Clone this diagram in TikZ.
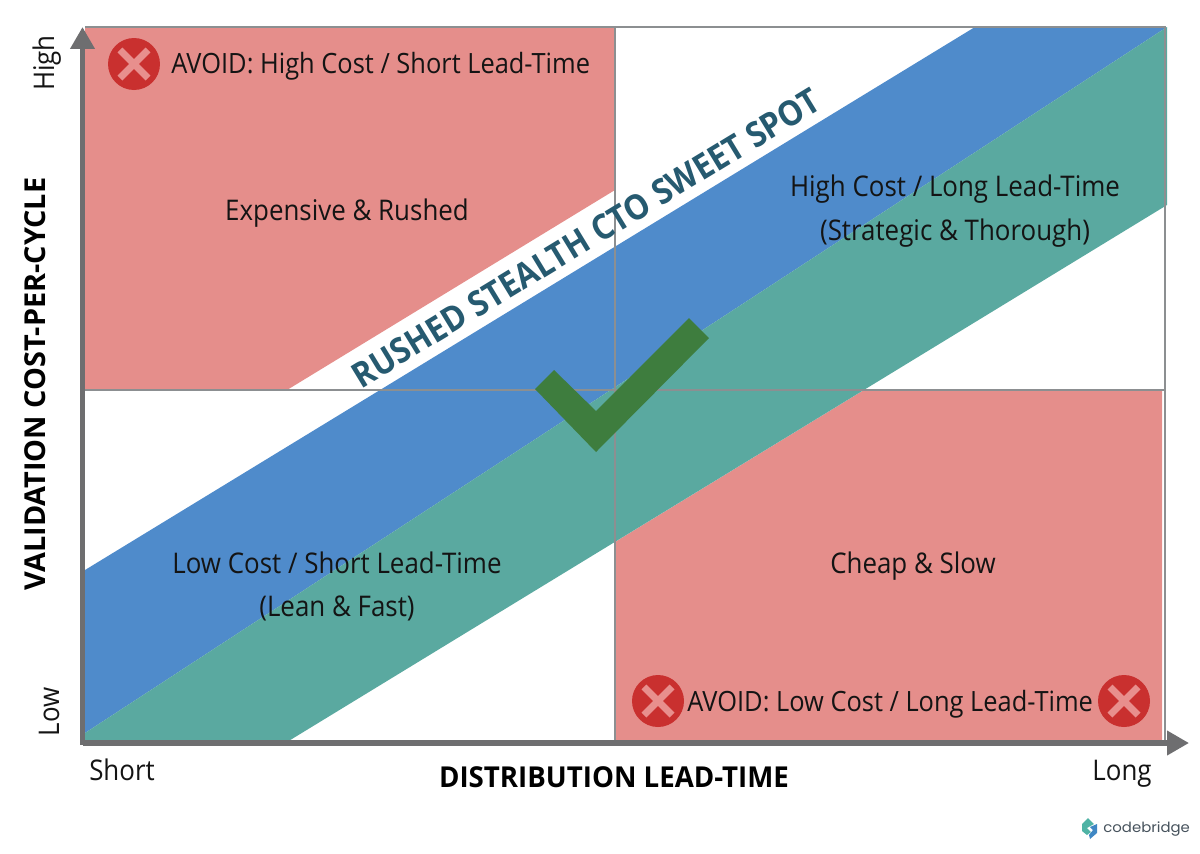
\documentclass[tikz,border=0pt]{standalone}
\usepackage{fontspec}
\setmainfont[FakeStretch=0.91]{Open Sans}
\newfontfamily\titlefont[FakeStretch=0.96]{Open Sans}
\newfontfamily\sidefont{Open Sans}
\newfontfamily\logofont[FakeStretch=1.06]{Poppins}
\usetikzlibrary{arrows.meta,shapes.misc}
\definecolor{zonered}{HTML}{E58E8B}
\definecolor{bandblue}{HTML}{4F8BCB}
\definecolor{bandgreen}{HTML}{5AA9A0}
\definecolor{axisgray}{HTML}{6E6E70}
\definecolor{gridgray}{HTML}{8C8F91}
\definecolor{avoidred}{HTML}{C9302F}
\definecolor{crosspink}{HTML}{E88F8D}
\definecolor{checkgreen}{HTML}{3E7D3E}
\definecolor{spotteal}{HTML}{265A70}
\definecolor{logogray}{HTML}{46525C}
\definecolor{logoteal}{HTML}{4FB3A5}
\definecolor{logoblue}{HTML}{3F87C4}
\begin{document}
\begin{tikzpicture}[x=0.02cm, y=-0.02cm,
    label/.style={font=\fontsize{16.2}{18}\selectfont, text=black!92, inner sep=0pt, anchor=base},
    warning/.style={font=\fontsize{15.9}{18}\selectfont, text=black!92, inner sep=0pt, anchor=base west},
    axistitle/.style={text=black, inner sep=0pt, anchor=base},
    axis/.style={line width=3pt, draw=axisgray, -{Triangle[length=12.5pt, width=13.4pt]}},
    grid/.style={line width=0.6pt, draw=gridgray},
    avoid/.style={circle, fill=avoidred, minimum size=1.04cm, inner sep=0pt},
    xmark/.style={cross out, draw=crosspink, line width=4pt, minimum size=0.42cm, inner sep=0pt}]
      \useasboundingbox (0,0) rectangle (1200,853);

      % Red zones
      \fill[zonered] (85,27) -- (615,27) -- (615,190) -- (287,390) -- (85,390) -- cycle;
      \fill[zonered] (615,542) -- (864,390) -- (1162,390) -- (1162,742) -- (615,742) -- cycle;

      % Sweet spot band
      \fill[bandblue] (85,570) -- (975,27) -- (1167,27) -- (85,733) -- cycle;
      \fill[bandgreen] (85,733) -- (1167,27) -- (1167,205) -- (287,742) -- (85,742) -- cycle;

      % Grid
      \coordinate (top-l) at (85,27);
      \coordinate (top-m) at (615,27);
      \coordinate (top-r) at (1165,27);
      \coordinate (mid-l) at (85,390);
      \coordinate (mid-r) at (1165,390);
      \coordinate (bot-m) at (615,742);
      \coordinate (bot-r) at (1165,742);
      \draw[grid] (top-l) -- (top-r) -- (bot-r);
      \draw[grid] (top-m) -- (bot-m);
      \draw[grid] (mid-l) -- (mid-r);

      % Axes
      \coordinate (x-end) at (1189,743);
      \coordinate (x-start) at (82.5,743);
      \coordinate (y-start) at (82.5,745);
      \coordinate (y-end) at (82.5,27);
      \draw[axis] (x-start) -- (x-end);
      \draw[axis] (y-start) -- (y-end);

      % Check mark
      \fill[checkgreen] (535,389) -- (554,370) -- (596,411) -- (689,318) -- (709,338) -- (596,452) -- cycle;

      % Avoid marks
      \foreach \name/\x/\y in {a/134/64, b/658/701, c/1124/701} {
        \node[avoid] (avoid-\name) at (\x,\y) {};
        \node[xmark] (cross-\name) at (\x,\y) {};
      }

      % Zone labels
      \node[warning] (avoid-high) at (171,73) {AVOID: High Cost / Short Lead-Time};
      \node[label] (expensive) at (347,220.5) {Expensive \& Rushed};
      \node[label] (high-cost) at (955,196) {High Cost / Long Lead-Time};
      \node[label] (strategic) at (955,240) {(Strategic \& Thorough)};
      \node[label] (low-cost) at (337,573) {Low Cost / Short Lead-Time};
      \node[label] (lean) at (337,616) {(Lean \& Fast)};
      \node[label] (cheap) at (913,573) {Cheap \& Slow};
      \node[warning] (avoid-low) at (687,711) {AVOID: Low Cost / Long Lead-Time};

      % Band label
      \node[font=\fontsize{19.8}{22}\selectfont\bfseries, text=spotteal, inner sep=0pt, rotate=31.3] (spot) at (586,238) {RUSHED STEALTH CTO SWEET SPOT};

      % Axis labels
      \node[label] (short) at (122,780) {Short};
      \node[label] (long) at (1122,780) {Long};
      \node[axistitle, font=\titlefont\fontsize{16.4}{20}\selectfont\bfseries] (x-title) at (614,787) {DISTRIBUTION LEAD-TIME};
      \node[axistitle, font=\sidefont\fontsize{16.4}{20}\selectfont\bfseries, rotate=90] (y-title) at (45,384) {VALIDATION COST-PER-CYCLE};
      \node[label, rotate=90] (high) at (54,63) {High};
      \node[label, rotate=90] (low) at (59,712) {Low};

      % Logo
      \fill[logoteal] (1088,818) -- (1082,824) -- (1082,831) -- (1087,835) -- (1091,832) -- (1087,828) -- (1094,824) -- cycle;
      \fill[logoblue] (1097,824) -- (1097,833) -- (1090,839) -- (1089,835) -- (1093,830) -- (1090,827) -- cycle;
      \node[font=\logofont\fontsize{8}{10}\selectfont, text=logogray, inner sep=0pt, anchor=west] (logo) at (1103,829) {codebridge};
   \end{tikzpicture}
\end{document}
